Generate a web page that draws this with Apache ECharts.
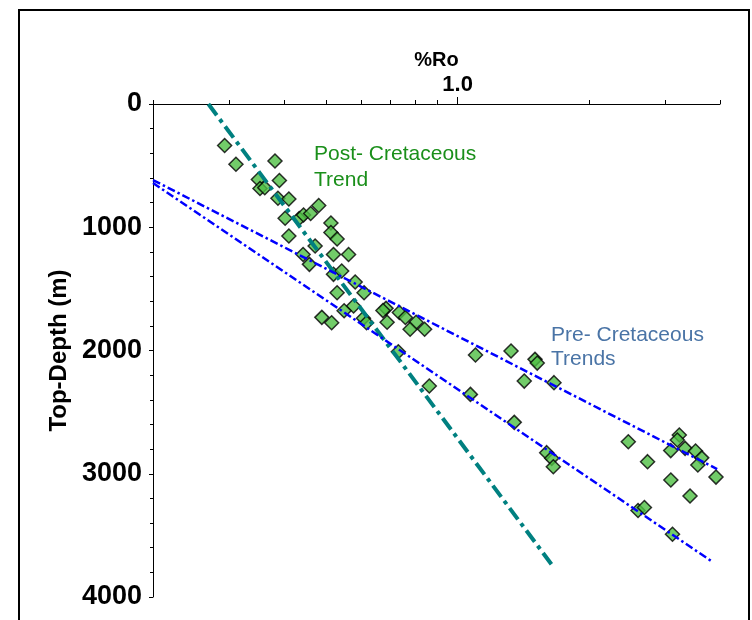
<!DOCTYPE html>
<html><head><meta charset="utf-8">
<script src="https://cdn.jsdelivr.net/npm/echarts@6/dist/echarts.min.js"></script>
<style>html,body{margin:0;padding:0;background:#fff}#c{width:752px;height:620px}</style>
</head><body><div id="c"></div>
<script>
// %Ro values and top depths (m)
const roValues = [0.292,0.310,0.381,0.390,0.349,0.352,0.361,0.387,0.410,0.402,
  0.433,0.443,0.460,0.480,0.410,0.512,0.512,0.529,0.471,0.442,
  0.457,0.519,0.562,0.519,0.542,0.582,0.610,0.529,0.577,0.549,
  0.488,0.514,0.608,0.618,0.685,0.674,0.689,0.735,0.759,0.803,
  0.778,0.840,0.731,0.861,1.070,1.099,1.326,1.505,1.523,1.422,
  1.664,1.349,1.601,1.644,1.658,2.464,2.728,3.083,3.226,3.192,
  3.326,3.515,3.632,3.558,3.916,3.085,3.414,2.594,2.683,3.112];
const depthValues = [337,489,462,621,613,686,679,765,771,927,
  929,901,888,824,1071,966,1043,1095,1152,1221,
  1301,1221,1221,1382,1355,1444,1531,1531,1639,1677,
  1731,1775,1739,1775,1658,1676,1771,1692,1732,1771,
  1828,1828,2010,2288,2356,2037,2004,2072,2102,2248,
  2261,2583,2829,2875,2943,2740,2902,2812,2686,2726,
  2794,2816,2871,2929,3027,3051,3181,3298,3274,3491];

const postTrendRo = [0.268, 1.647];
const postTrendDepth = [0, 3741];
const preUpperRo = [0.2, 3.94];
const preUpperDepth = [617, 2962];
const preLowerRo = [0.2, 3.85];
const preLowerDepth = [641, 3716];

const xMinorTicks = [0.2,0.3,0.4,0.5,0.6,0.7,0.8,0.9,2,3,4];
const xMajorTicks = [1.0];
const xLabelText = '1.0';
const xMin = 0.2, xMax = 4;
const yMin = 0, yMax = 4000, yInterval = 1000;

const lg = v => Math.log10(v);
const pts = roValues.map((r, i) => [lg(r), depthValues[i]]);
const pair = (xs, ys) => xs.map((x, i) => [lg(x), ys[i]]);

const sans = "'Liberation Sans',Arial,sans-serif";

const chart = echarts.init(document.getElementById('c'));
chart.setOption({
  animation: false,
  backgroundColor: '#fff',
  grid: {left: 153, right: 32, top: 104, bottom: 23, containLabel: false},
  xAxis: [{
    type: 'value', position: 'top', min: lg(xMin), max: lg(xMax),
    axisLine: {show: true, onZero: false, lineStyle: {color: '#000', width: 1}},
    axisTick: {show: true, length: 4, customValues: xMinorTicks.map(lg), lineStyle: {color: '#000'}},
    axisLabel: {show: false},
    splitLine: {show: false},
    name: '%Ro', nameLocation: 'middle', nameGap: 34,
    nameTextStyle: {fontFamily: sans, fontWeight: 'bold', fontSize: 20, color: '#000'}
  }, {
    type: 'value', position: 'top', min: lg(xMin), max: lg(xMax),
    axisLine: {show: false, onZero: false},
    axisTick: {show: true, length: 7, customValues: xMajorTicks.map(lg), lineStyle: {color: '#000'}},
    axisLabel: {show: true, customValues: xMajorTicks.map(lg), formatter: () => xLabelText,
      fontFamily: sans, fontWeight: 'bold', fontSize: 22, color: '#000', margin: 8},
    splitLine: {show: false}
  }],
  yAxis: {
    type: 'value', inverse: true, min: yMin, max: yMax, interval: yInterval,
    axisLine: {show: true, onZero: false, lineStyle: {color: '#000', width: 1}},
    axisTick: {show: true, length: 4, lineStyle: {color: '#000'}},
    minorTick: {show: true, splitNumber: 5, length: 3, lineStyle: {color: '#000'}},
    axisLabel: {fontFamily: sans, fontWeight: 'bold', fontSize: 27, color: '#000', margin: 11,
      formatter: v => String(v)},
    splitLine: {show: false},
    name: 'Top-Depth (m)', nameLocation: 'middle', nameRotate: 90, nameGap: 71,
    nameTextStyle: {fontFamily: sans, fontWeight: 'bold', fontSize: 24, color: '#000'}
  },
  series: [{
    type: 'scatter', data: pts, symbol: 'diamond', symbolSize: 14, z: 2,
    itemStyle: {color: '#4fbf43', borderColor: '#000', borderWidth: 1.5}
  }, {
    type: 'line', data: pair(postTrendRo, postTrendDepth), symbol: 'none', z: 3,
    lineStyle: {color: '#008080', width: 4, type: [14, 5, 4, 5]}
  }, {
    type: 'line', data: pair(preUpperRo, preUpperDepth), symbol: 'none', z: 3,
    lineStyle: {color: '#0000ff', width: 2.5, type: [8, 3, 2.5, 3]}
  }, {
    type: 'line', data: pair(preLowerRo, preLowerDepth), symbol: 'none', z: 3,
    lineStyle: {color: '#0000ff', width: 2.5, type: [8, 3, 2.5, 3]}
  }],
  graphic: [{
    type: 'rect', shape: {x: 19, y: 10, width: 730, height: 630},
    style: {fill: 'none', stroke: '#000', lineWidth: 2}, silent: true
  }, {
    type: 'text', left: 314, top: 141,
    style: {text: 'Post- Cretaceous\nTrend', fill: '#1a8f1a', font: '21px ' + sans, lineHeight: 26}
  }, {
    type: 'text', left: 551, top: 323,
    style: {text: 'Pre- Cretaceous\nTrends', fill: '#4a74a6', font: '21px ' + sans, lineHeight: 24}
  }]
});
</script></body></html>
